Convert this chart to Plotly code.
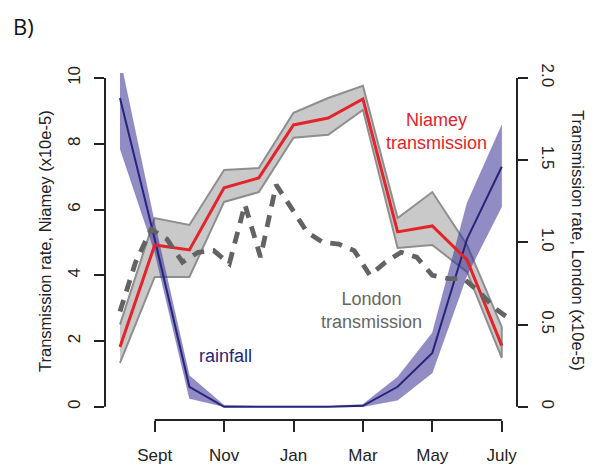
import plotly.graph_objects as go

# ---------------- data ----------------
month_labels = ["Aug", "Sept", "Oct", "Nov", "Dec", "Jan", "Feb", "Mar", "Apr", "May", "Jun", "July"]
month_pos = list(range(len(month_labels)))
tick_labels = ["Sept", "Nov", "Jan", "Mar", "May", "July"]
tick_pos = [1, 3, 5, 7, 9, 11]

# Niamey transmission (x10e-5), monthly, with confidence band
niamey_mid = [1.82, 4.92, 4.77, 6.66, 6.96, 8.57, 8.78, 9.36, 5.32, 5.50, 4.47, 1.86]
niamey_up = [2.50, 5.74, 5.53, 7.20, 7.26, 8.94, 9.39, 9.76, 5.74, 6.53, 4.92, 2.43]
niamey_lo = [1.34, 3.95, 3.95, 6.23, 6.53, 8.18, 8.27, 9.03, 4.83, 4.92, 4.10, 1.49]

# rainfall (plotted in left-axis units), monthly, with band
rain_mid = [9.39, 5.10, 0.61, 0.00, 0.00, 0.00, 0.00, 0.03, 0.61, 1.64, 5.10, 7.30]
rain_up = [10.60, 5.60, 0.95, 0.05, 0.02, 0.02, 0.02, 0.08, 0.91, 2.25, 6.20, 8.57]
rain_lo = [7.85, 4.70, 0.25, 0.00, 0.00, 0.00, 0.00, 0.00, 0.20, 1.03, 4.00, 6.08]

# London transmission (x10e-5), biweekly
london_biweek = list(range(26))
london_vals = [0.58, 0.88, 1.08, 1.02, 0.88, 0.94, 0.95, 0.87, 1.23, 0.91, 1.35, 1.20, 1.06,
               1.00, 0.99, 0.95, 0.80, 0.88, 0.94, 0.91, 0.80, 0.78, 0.78, 0.70, 0.60, 0.53]
months_per_biweek = 0.45
london_x = [b * months_per_biweek for b in london_biweek]

left_ticks = [0, 2, 4, 6, 8, 10]
right_ticks = [0, 0.5, 1.0, 1.5, 2.0]
right_tick_text = ["0", "0.5", "1.0", "1.5", "2.0"]

# ---------------- styling ----------------
FONT = "Liberation Sans, Arial, Helvetica, sans-serif"
RED = "#e3242b"
NAVY = "#25257a"
GRAY_TXT = "#666666"
AX = "#222222"

fig = go.Figure()

fig.add_trace(go.Scatter(
    x=month_pos + month_pos[::-1], y=niamey_up + niamey_lo[::-1],
    fill="toself", fillcolor="#c9c9c9", mode="lines",
    line=dict(color="#8e8e8e", width=2), hoverinfo="skip", showlegend=False))
fig.add_trace(go.Scatter(
    x=month_pos + month_pos[::-1], y=rain_up + rain_lo[::-1],
    fill="toself", fillcolor="rgba(60,50,150,0.56)", mode="lines",
    line=dict(color="rgba(60,50,150,0.3)", width=0.5), hoverinfo="skip", showlegend=False))
fig.add_trace(go.Scatter(
    x=london_x, y=london_vals, yaxis="y2", mode="lines",
    line=dict(color="#636363", width=4.8, dash="12px,9px"), showlegend=False))
fig.add_trace(go.Scatter(
    x=month_pos, y=rain_mid, mode="lines",
    line=dict(color=NAVY, width=2), showlegend=False))
fig.add_trace(go.Scatter(
    x=month_pos, y=niamey_mid, mode="lines",
    line=dict(color=RED, width=3), showlegend=False))

fig.add_shape(type="line", xref="paper", yref="y", x0=0, x1=0, y0=0, y1=10,
              line=dict(color=AX, width=2))
fig.add_shape(type="line", xref="paper", yref="y2", x0=1, x1=1, y0=0, y1=2,
              line=dict(color=AX, width=2))
fig.add_shape(type="line", xref="x", yref="paper", x0=1, x1=11, y0=0, y1=0,
              line=dict(color=AX, width=2))

# page has an 8px body margin: plot area at page x 105..517, y 73..420
fig.update_layout(
    width=592, height=468,
    margin=dict(l=97, r=83, t=65, b=56),
    paper_bgcolor="white", plot_bgcolor="white",
    font=dict(family=FONT, size=16, color=AX),
    xaxis=dict(range=[-0.432, 11.44], tickvals=tick_pos, ticktext=tick_labels,
               ticks="outside", ticklen=11, tickwidth=2, tickcolor=AX,
               showgrid=False, zeroline=False, showline=False,
               ticklabelstandoff=9, tickfont=dict(size=17, color=AX)),
    yaxis=dict(range=[-0.4, 10.15], tickvals=left_ticks,
               ticks="outside", ticklen=10, tickwidth=2, tickcolor=AX,
               showgrid=False, zeroline=False, showline=False, tickangle=-90,
               ticklabelstandoff=7, tickfont=dict(size=17, color=AX)),
    yaxis2=dict(range=[-0.08, 2.03], overlaying="y", side="right",
                tickvals=right_ticks, ticktext=right_tick_text,
                ticks="outside", ticklen=10, tickwidth=2, tickcolor=AX,
                showgrid=False, zeroline=False, showline=False, tickangle=90,
                ticklabelstandoff=7, tickfont=dict(size=17, color=AX)),
)

def px_x(p):
    return (p - 105) / 412.0

def px_y(p):
    return (420 - p) / 347.0

annotations = [
    dict(text="B)", x=px_x(23), y=px_y(26), font=dict(family="Open Sans, Noto Sans, sans-serif", size=22, color="#111")),
    dict(text="Transmission rate, Niamey (x10e-5)", x=px_x(45), y=px_y(241), textangle=-90,
         font=dict(size=16.5, color=AX)),
    dict(text="Transmission rate, London (x10e-5)", x=px_x(578), y=px_y(240), textangle=90,
         font=dict(size=16.5, color=AX)),
    dict(text="Niamey<br>transmission", x=px_x(436), y=px_y(131), font=dict(size=18, color=RED)),
    dict(text="London<br>transmission", x=px_x(371), y=px_y(310), font=dict(size=18, color=GRAY_TXT)),
    dict(text="rainfall", x=px_x(225.5), y=px_y(356), font=dict(size=18, color=NAVY)),
]
for a in annotations:
    a.update(xref="paper", yref="paper", showarrow=False, xanchor="center", yanchor="middle")
fig.update_layout(annotations=annotations)

fig.write_html("out.html")
